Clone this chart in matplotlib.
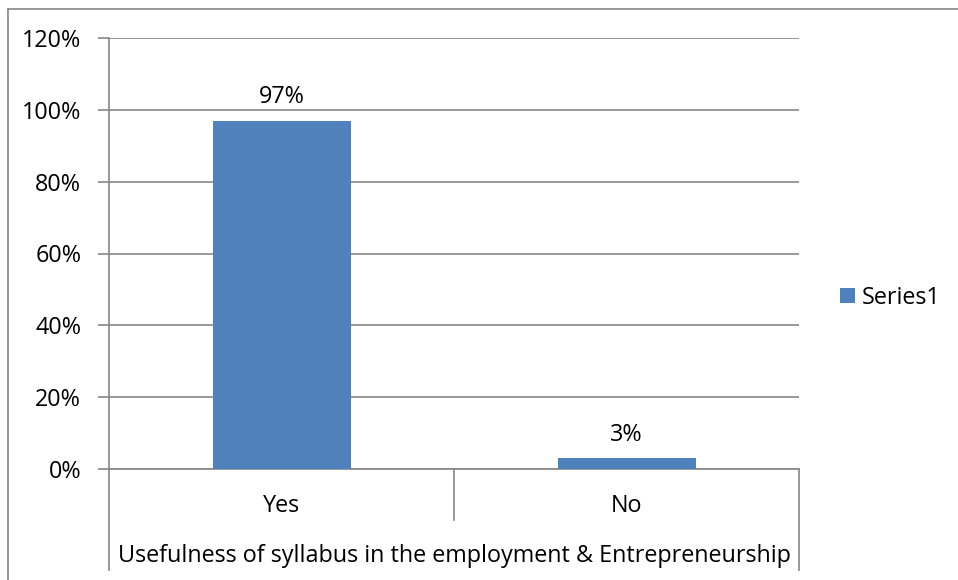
import matplotlib.pyplot as plt
from matplotlib.lines import Line2D
import numpy as np

# data
categories = ['Yes', 'No']
values = [0.97, 0.03]
series_name = 'Series1'
axis_title = 'Usefulness of syllabus in the employment & Entrepreneurship'
yticks = [0, 0.2, 0.4, 0.6, 0.8, 1.0, 1.2]

plt.rcParams['font.family'] = ['Open Sans', 'DejaVu Sans']
W, H = 958, 580
fs = 16.8
fig = plt.figure(figsize=(W / 100, H / 100), dpi=100)
ax = fig.add_axes([109 / W, 1 - 469 / H, 690 / W, 431 / H])

grid_c = '#868686'
x = np.arange(len(categories))
bars = ax.bar(x, values, width=0.4, color='#4F81BD', label=series_name, zorder=3)

ax.set_xlim(-0.5, 1.5)
ax.set_ylim(0, 1.2)
ax.set_yticks(yticks)
ax.set_yticklabels([f'{int(round(v * 100))}%' for v in yticks], fontsize=fs)
ax.yaxis.grid(True, color=grid_c, linewidth=1.2, zorder=0)
ax.tick_params(axis='y', length=8, width=1.2, color=grid_c, pad=12)
ax.set_xticks([])
for s in ['top', 'right']:
    ax.spines[s].set_visible(False)
ax.spines['left'].set_color(grid_c)
ax.spines['left'].set_linewidth(1.2)
ax.spines['bottom'].set_color(grid_c)
ax.spines['bottom'].set_linewidth(1.2)

# data labels
for b, v in zip(bars, values):
    ax.annotate(f'{int(round(v * 100))}%', (b.get_x() + b.get_width() / 2, v),
                xytext=(0, 17), textcoords='offset points',
                ha='center', va='center', fontsize=fs)

# multi-level category axis
trans = ax.get_xaxis_transform()
for xv, low in [(-0.5, -0.234), (0.5, -0.118), (1.5, -0.234)]:
    ax.plot([xv, xv], [0, low], color=grid_c, linewidth=1.2, transform=trans, clip_on=False)
for xi, c in zip(x, categories):
    ax.text(xi, -0.086, c, transform=trans, ha='center', va='center', fontsize=fs)
ax.text(0.5, -0.203, axis_title, transform=trans, ha='center', va='center', fontsize=fs)

# legend
ax.legend(loc='center left', bbox_to_anchor=(1.06, 0.397), frameon=False, fontsize=fs,
          handlelength=0.62, handleheight=0.62, handletextpad=0.3, borderaxespad=0,
          borderpad=0)

# chart border (partially cropped)
fig.add_artist(Line2D([8 / W, 8 / W], [0, 1 - 9 / H], color=grid_c, linewidth=1.2))
fig.add_artist(Line2D([8 / W, 1], [1 - 9 / H, 1 - 9 / H], color=grid_c, linewidth=1.2))

fig.savefig('out.png', dpi=100)
